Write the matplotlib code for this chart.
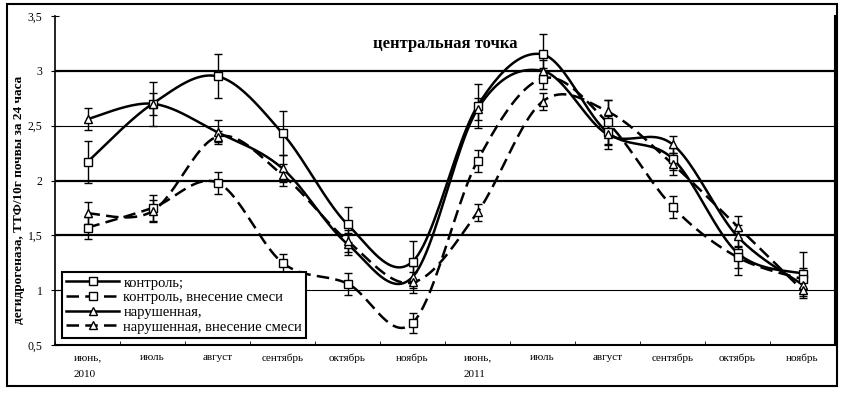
#!/usr/bin/env python3

import matplotlib
matplotlib.use("Agg")
import matplotlib.pyplot as plt
from matplotlib.lines import Line2D
from matplotlib.patches import Rectangle
import numpy as np

plt.rcParams['font.family'] = ['Liberation Serif', 'DejaVu Serif']

months = ["июнь,\n2010", "июль", "август", "сентябрь", "октябрь", "ноябрь",
          "июнь,\n2011", "июль", "август", "сентябрь", "октябрь", "ноябрь"]

control = [2.17, 2.70, 2.95, 2.43, 1.60, 1.26, 2.68, 3.15, 2.44, 2.20, 1.34, 1.15]
control_err = [0.19, 0.20, 0.20, 0.20, 0.16, 0.19, 0.20, 0.19, 0.15, 0.10, 0.20, 0.20]

control_mix = [1.57, 1.75, 1.98, 1.25, 1.06, 0.70, 2.18, 2.93, 2.53, 1.76, 1.30, 1.10]
control_mix_err = [0.10, 0.12, 0.10, 0.08, 0.10, 0.09, 0.10, 0.10, 0.20, 0.10, 0.10, 0.10]

disturbed = [2.56, 2.70, 2.44, 2.11, 1.42, 1.12, 2.65, 3.00, 2.42, 2.33, 1.49, 1.05]
disturbed_err = [0.10, 0.10, 0.11, 0.12, 0.10, 0.10, 0.10, 0.10, 0.10, 0.08, 0.10, 0.08]

disturbed_mix = [1.70, 1.72, 2.40, 2.05, 1.45, 1.07, 1.71, 2.72, 2.63, 2.15, 1.58, 1.00]
disturbed_mix_err = [0.10, 0.10, 0.05, 0.10, 0.10, 0.10, 0.08, 0.08, 0.10, 0.10, 0.10, 0.07]

labels = ["контроль;", "контроль, внесение смеси",
          "нарушенная,", "нарушенная, внесение смеси"]


def smooth(x, y, n=24):
    # catmull-rom, like excel's "smoothed line"
    pts = np.column_stack([x, y]).astype(float)
    p = np.vstack([pts[0], pts, pts[-1]])
    t = np.linspace(0, 1, n, endpoint=False)[:, None]
    out = []
    for i in range(1, len(p) - 2):
        p0, p1, p2, p3 = p[i - 1], p[i], p[i + 1], p[i + 2]
        seg = 0.5 * (2 * p1 + (-p0 + p2) * t
                     + (2 * p0 - 5 * p1 + 4 * p2 - p3) * t ** 2
                     + (-p0 + 3 * p1 - 3 * p2 + p3) * t ** 3)
        out.append(seg)
    out.append(pts[-1:])
    return np.vstack(out)


fig = plt.figure(figsize=(8.42, 3.96), dpi=100)
ax = fig.add_axes([55 / 842, 51 / 396, 780 / 842, 329 / 396])

fig.patches.append(Rectangle((7 / 842, 10 / 396), 830 / 842, 382 / 396,
                             transform=fig.transFigure, fill=False,
                             edgecolor="black", lw=1.5, zorder=0))

for g, w in [(1.0, 0.8), (1.5, 1.6), (2.0, 1.6), (2.5, 0.8), (3.0, 1.6)]:
    ax.axhline(g, color="black", lw=w, zorder=1)

x = np.arange(len(months))
dash = (0, (5, 2.5))
series = [
    (control, control_err, "-", "s"),
    (control_mix, control_mix_err, dash, "s"),
    (disturbed, disturbed_err, "-", "^"),
    (disturbed_mix, disturbed_mix_err, dash, "^"),
]

handles = []
for (vals, err, ls, mk), lab in zip(series, labels):
    c = smooth(x, vals)
    ax.plot(c[:, 0], c[:, 1], color="black", lw=1.8, ls=ls, zorder=3)
    ax.errorbar(x, vals, yerr=err, fmt="none", ecolor="black", elinewidth=1,
                capsize=3, capthick=1, zorder=4)
    ax.plot(x, vals, ls="none", marker=mk, ms=6, mfc="white", mec="black",
            mew=1, zorder=5)
    handles.append(Line2D([], [], color="black", lw=1.8, ls=ls, marker=mk,
                          ms=6, mfc="white", mec="black", mew=1))

ax.set_xlim(-0.5, len(months) - 0.5)
ax.set_ylim(0.5, 3.5)
ax.set_yticks([0.5, 1, 1.5, 2, 2.5, 3, 3.5])
ax.set_yticklabels(["0,5", "1", "1,5", "2", "2,5", "3", "3,5"], fontsize=8.5)
ax.set_xticks(x)
ax.set_xticklabels(months, fontsize=8, multialignment="left", linespacing=2.1)
ax.set_xticks(np.arange(-0.5, len(months), 1), minor=True)
ax.tick_params(axis="x", which="major", length=0, pad=6)
ax.tick_params(axis="x", which="minor", length=3, direction="in")
ax.tick_params(axis="y", direction="inout", length=6, pad=6)

ax.spines["top"].set_visible(False)
ax.spines["left"].set_linewidth(1.2)
ax.spines["bottom"].set_linewidth(1.5)
ax.spines["right"].set_linewidth(1.5)

ax.set_ylabel("дегидрогеназа, ТТФ/10г почвы за 24 часа", fontsize=9.5,
              fontweight="bold")
ax.yaxis.set_label_coords(-0.039, 0.44)

ax.text(0.5, 0.915, "центральная точка", transform=ax.transAxes,
        fontsize=12, fontweight="bold", ha="center", va="center")

leg = ax.legend(handles, labels, loc="upper left",
                bbox_to_anchor=(0.009, 0.222), borderaxespad=0,
                fontsize=10.5, handlelength=3.6, labelspacing=0.1,
                fancybox=False, framealpha=1, edgecolor="black",
                borderpad=0.3, handletextpad=0.3)
leg.get_frame().set_linewidth(1.5)
leg.set_zorder(10)

fig.savefig("out.png", dpi=100)
